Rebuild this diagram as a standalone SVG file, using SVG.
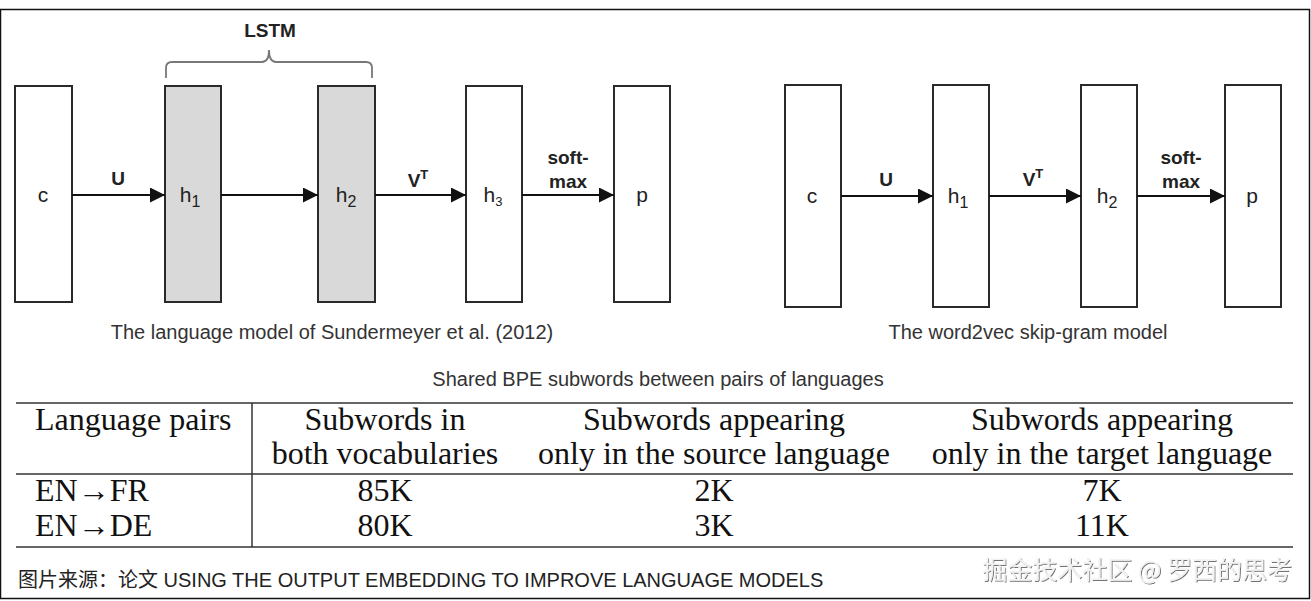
<svg xmlns="http://www.w3.org/2000/svg" width="1311" height="601" viewBox="0 0 1311 601">
<defs>
<marker id="ah" viewBox="0 0 10 10" refX="10" refY="5" markerWidth="15" markerHeight="15" markerUnits="userSpaceOnUse" orient="auto"><path d="M0,0 L10,5 L0,10 z" fill="#111"/></marker>
<filter id="sh" x="-5%" y="-20%" width="110%" height="140%"><feDropShadow dx="1" dy="1" stdDeviation="0.6" flood-color="#000" flood-opacity="0.55"/></filter>
</defs>
<style>
.box{fill:#fff;stroke:#2a2a2a;stroke-width:2}
.gray{fill:#d9d9d9}
.lbl{font-family:"Liberation Sans",Arial,sans-serif;font-size:21px;fill:#222;text-anchor:middle}
.bl{font-family:"Liberation Sans",Arial,sans-serif;font-size:19px;font-weight:bold;fill:#222;text-anchor:middle}
.cap{font-family:"Liberation Sans",Arial,sans-serif;font-size:20px;fill:#333;text-anchor:middle}
.arr{stroke:#111;stroke-width:1.8;fill:none;marker-end:url(#ah)}
.tb{font-family:"Liberation Serif","Times New Roman",serif;font-size:32px;fill:#111}
.tc{text-anchor:middle}
.rule{stroke:#333;stroke-width:1.5}
</style>
<rect x="0.5" y="9.5" width="1309" height="589" fill="#fff" stroke="#111" stroke-width="1.5"/>

<g id="left-model">
<g id="L-c"><rect class="box" x="15" y="86" width="57" height="216"/><text class="lbl" x="43" y="202">c</text></g>
<g id="L-h1"><rect class="box gray" x="165" y="86" width="56" height="216"/><text class="lbl" x="190" y="202">h<tspan font-size="16" dy="5">1</tspan></text></g>
<g id="L-h2"><rect class="box gray" x="318" y="86" width="57" height="216"/><text class="lbl" x="346" y="202">h<tspan font-size="16" dy="5">2</tspan></text></g>
<g id="L-h3"><rect class="box" x="466" y="86" width="56" height="216"/><text class="lbl" x="493" y="202">h<tspan font-size="13" dy="4">3</tspan></text></g>
<g id="L-p"><rect class="box" x="614" y="86" width="56" height="216"/><text class="lbl" x="642" y="202">p</text></g>
<g id="L-lstm"><path d="M166,78 V68 Q166,62 172,62 H262 Q269,62 269,50 Q269,62 276,62 H366 Q372,62 372,68 V78" fill="none" stroke="#777" stroke-width="1.8"/><text class="bl" x="270" y="37" font-size="22">LSTM</text></g>
<text class="cap" x="332" y="339">The language model of Sundermeyer et al. (2012)</text>
</g>

<g id="right-model">
<g id="R-c"><rect class="box" x="785" y="85" width="56" height="222"/><text class="lbl" x="812" y="203">c</text></g>
<g id="R-h1"><rect class="box" x="933" y="85" width="56" height="222"/><text class="lbl" x="958" y="203">h<tspan font-size="16" dy="5">1</tspan></text></g>
<g id="R-h2"><rect class="box" x="1081" y="85" width="56" height="222"/><text class="lbl" x="1107" y="203">h<tspan font-size="16" dy="5">2</tspan></text></g>
<g id="R-p"><rect class="box" x="1225" y="85" width="56" height="222"/><text class="lbl" x="1252" y="203">p</text></g>
<text class="cap" x="1028" y="339">The word2vec skip-gram model</text>
</g>

<g id="connectors">
<line class="arr" x1="72" y1="195" x2="165" y2="195"/>
<line class="arr" x1="221" y1="195" x2="318" y2="195"/>
<line class="arr" x1="375" y1="195" x2="466" y2="195"/>
<line class="arr" x1="522" y1="195" x2="614" y2="195"/>
<line class="arr" x1="841" y1="196" x2="933" y2="196"/>
<line class="arr" x1="989" y1="196" x2="1081" y2="196"/>
<line class="arr" x1="1137" y1="196" x2="1225" y2="196"/>
</g>

<g id="edge-labels">
<text class="bl" x="118" y="185">U</text>
<text class="bl" x="418" y="187">V<tspan font-size="13" dy="-8">T</tspan></text>
<text class="bl" x="568" y="164">soft-</text>
<text class="bl" x="568" y="188">max</text>
<text class="bl" x="886" y="186">U</text>
<text class="bl" x="1033" y="186">V<tspan font-size="13" dy="-8">T</tspan></text>
<text class="bl" x="1181" y="164">soft-</text>
<text class="bl" x="1181" y="188">max</text>
</g>

<g id="table">
<text class="cap" x="658" y="386" font-size="19">Shared BPE subwords between pairs of languages</text>
<line class="rule" x1="16" y1="403" x2="1293" y2="403"/>
<line class="rule" x1="16" y1="474" x2="1293" y2="474"/>
<line class="rule" x1="16" y1="547" x2="1293" y2="547"/>
<line class="rule" x1="252" y1="403" x2="252" y2="547"/>
<text class="tb" x="35" y="430">Language pairs</text>
<text class="tb tc" x="385" y="430">Subwords in</text>
<text class="tb tc" x="385" y="464">both vocabularies</text>
<text class="tb tc" x="714" y="430">Subwords appearing</text>
<text class="tb tc" x="714" y="464">only in the source language</text>
<text class="tb tc" x="1102" y="430">Subwords appearing</text>
<text class="tb tc" x="1102" y="464">only in the target language</text>
<text class="tb" x="35" y="501">EN→FR</text>
<text class="tb tc" x="385" y="501">85K</text>
<text class="tb tc" x="714" y="501">2K</text>
<text class="tb tc" x="1102" y="501">7K</text>
<text class="tb" x="35" y="536">EN→DE</text>
<text class="tb tc" x="385" y="536">80K</text>
<text class="tb tc" x="714" y="536">3K</text>
<text class="tb tc" x="1102" y="536">11K</text>
</g>

<text x="18" y="587" font-family="'Liberation Sans','Noto Sans CJK SC',sans-serif" font-size="20" fill="#222">图片来源：论文 USING THE OUTPUT EMBEDDING TO IMPROVE LANGUAGE MODELS</text>
<text x="1292" y="579" text-anchor="end" font-family="'Noto Sans CJK SC',sans-serif" font-size="25" fill="#f2f2f2" filter="url(#sh)">掘金技术社区 @ 罗西的思考</text>
</svg>
